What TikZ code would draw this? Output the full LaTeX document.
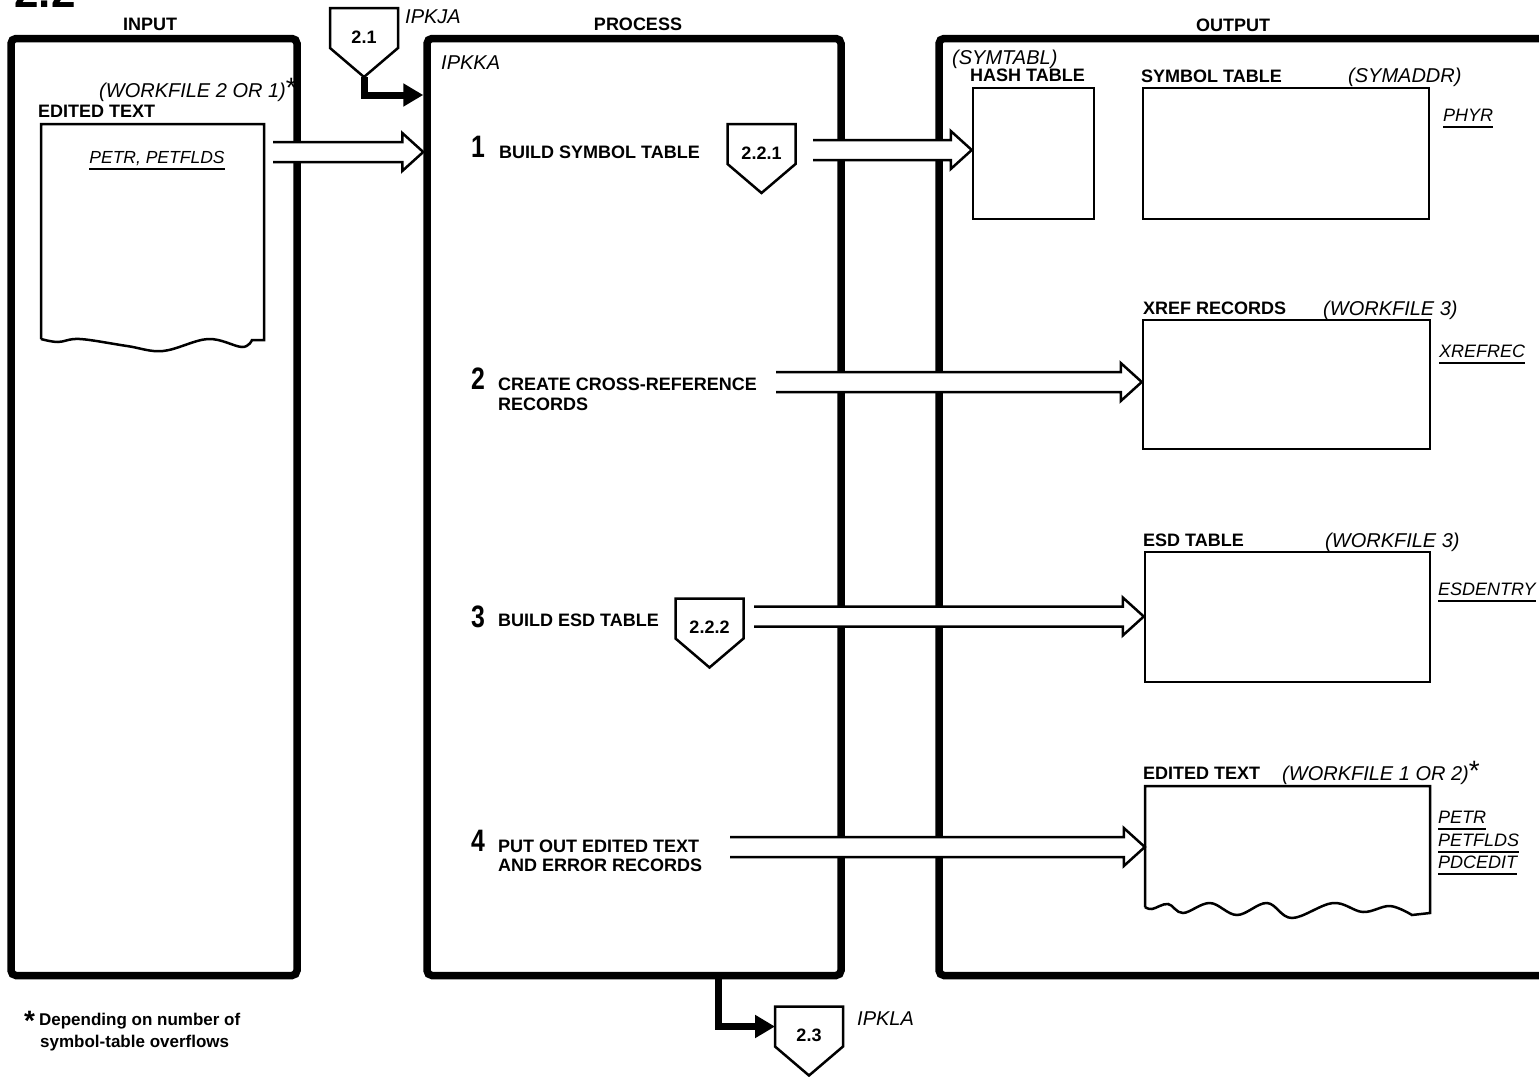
\documentclass[tikz,border=0pt]{standalone}
\usepackage{fontspec}
\setmainfont{Liberation Sans}
\newfontfamily\numfont[FakeStretch=0.8]{Liberation Sans}
\usetikzlibrary{arrows.meta,calc}

% off-page connector: name, top centre, number
\newcommand\offpage[3]{%
  \coordinate (#1) at #2;
  \draw[pent] (#1) ++(-34,0) -- ++(68,0) -- ++(0,40) -- ++(-34,29) -- ++(-34,-29) -- cycle;
  \coordinate (#1-pt) at ([yshift=-69pt]#1);
  \coordinate (#1-w) at ([xshift=-34pt,yshift=-20pt]#1);
  \node[pentno] (#1-no) at ([yshift=-29pt]#1) {#3};
}
% wide open arrow from a coordinate to a tip
\newcommand\hollowarrow[2]{%
  \fill[white] let \p1=(#1), \p2=(#2) in
    (\x1,\y1+10pt) -- (\x2-21pt,\y1+10pt) -- (\x2-21pt,\y1+19pt) -- (\x2,\y1)
    -- (\x2-21pt,\y1-19pt) -- (\x2-21pt,\y1-10pt) -- (\x1,\y1-10pt) -- cycle;
  \draw[hollow] let \p1=(#1), \p2=(#2) in
    (\x1,\y1+10pt) -- (\x2-21pt,\y1+10pt) -- (\x2-21pt,\y1+19pt) -- (\x2,\y1)
    -- (\x2-21pt,\y1-19pt) -- (\x2-21pt,\y1-10pt) -- (\x1,\y1-10pt);
}

\begin{document}
\begin{tikzpicture}[x=1pt,y=-1pt,
  bigbox/.style={draw,line width=7.5pt,rounded corners=5pt},
  tabbox/.style={draw,line width=2.5pt},
  head/.style={font=\fontsize{18}{21}\selectfont\bfseries,inner sep=0pt,text depth=0pt},
  tag/.style={font=\fontsize{20}{23}\selectfont\itshape,inner sep=0pt,text depth=0pt},
  ul/.style={tag,font=\fontsize{18}{21}\selectfont\itshape,inner ysep=6pt,append after command={(\tikzlastnode.south west) edge[line width=2pt] (\tikzlastnode.south east)}},
  stepno/.style={font=\numfont\fontsize{31}{31}\selectfont\bfseries,inner sep=0pt,text depth=0pt},
  pent/.style={draw,line width=2.5pt,fill=white,line join=miter},
  pentno/.style={font=\fontsize{18}{21}\selectfont\bfseries,inner sep=0pt},
  fat/.style={line width=7pt,-{Triangle[length=20pt,width=22pt]}},
  hollow/.style={line width=2.5pt,line join=miter},
  foot/.style={font=\fontsize{17}{20}\selectfont\bfseries,inner sep=0pt,text depth=0pt}]
  \useasboundingbox (0,0) rectangle (1539,1076);
  \node[anchor=base west,font=\fontsize{44}{44}\selectfont\bfseries] (title) at (11,7) {2.2};

  % the three columns
  \node[head] (hin) at (150,24) {INPUT};
  \node[head] (hproc) at (638,24) {PROCESS};
  \node[head] (hout) at (1233,25) {OUTPUT};
  \node[bigbox,minimum width=286,minimum height=937] (input) at (154,507) {};
  \node[bigbox,minimum width=414,minimum height=937] (process) at (634,507) {};
  \node[bigbox,minimum width=631,minimum height=937] (output) at (1254.5,507) {};

  % input
  \node[tag,anchor=east] (wfin) at (297,90) {(WORKFILE 2 OR 1)\smash{\fontsize{28}{28}\selectfont\upshape *}};
  \node[head,anchor=west] (edin) at (38,111) {EDITED TEXT};
  \node[minimum width=223,minimum height=216,inner sep=0pt] (docin) at (152.5,232) {};
  \draw[tabbox] (41,339) -- (41,124) -- (264,124) -- (264,340) -- plot[smooth,tension=0.6] coordinates {(252,340) (242,347) (208,339) (163,351) (127,346) (80,339) (58,342) (41,339)};
  \node[ul,font=\fontsize{17.5}{20}\selectfont\itshape] (petrin) at (157,157) {PETR, PETFLDS};

  % process
  \node[tag,anchor=west] (ipkka) at (441,63) {IPKKA};
  \node[stepno,anchor=west] (n1) at (471,147) {1};
  \node[head,anchor=west] (s1) at (499,152) {BUILD SYMBOL TABLE};
  \node[stepno,anchor=west] (n2) at (471,379) {2};
  \node[head,anchor=west] (s2a) at (498,384) {CREATE CROSS-REFERENCE};
  \node[head,anchor=west] (s2b) at (498,404) {RECORDS};
  \node[stepno,anchor=west] (n3) at (471,617) {3};
  \node[head,anchor=west] (s3) at (498,620) {BUILD ESD TABLE};
  \node[stepno,anchor=west] (n4) at (471,841) {4};
  \node[head,anchor=west] (s4a) at (498,846) {PUT OUT EDITED TEXT};
  \node[head,anchor=west] (s4b) at (498,865) {AND ERROR RECORDS};
  \offpage{c221}{(761.5,124)}{2.2.1}
  \offpage{c222}{(709.5,598.5)}{2.2.2}

  % output
  \node[tag,anchor=west] (symtabl) at (952,57) {(SYMTABL)};
  \node[head,anchor=west] (hhash) at (970,75) {HASH TABLE};
  \node[tabbox,minimum width=121,minimum height=131] (hash) at (1033.5,153.5) {};
  \node[head,anchor=west] (hsym) at (1141,76) {SYMBOL TABLE};
  \node[tag,anchor=west] (symaddr) at (1348,75) {(SYMADDR)};
  \node[tabbox,minimum width=286,minimum height=131] (symtab) at (1286,153.5) {};
  \node[ul,anchor=west] (phyr) at (1443,115) {PHYR};

  \node[head,anchor=west] (hxref) at (1143,308) {XREF RECORDS};
  \node[tag,anchor=west] (wf3a) at (1323,308) {(WORKFILE 3)};
  \node[tabbox,minimum width=287,minimum height=129] (xref) at (1286.5,384.5) {};
  \node[ul,anchor=west] (xrefrec) at (1439,351) {XREFREC};

  \node[head,anchor=west] (hesd) at (1143,540) {ESD TABLE};
  \node[tag,anchor=west] (wf3b) at (1325,540) {(WORKFILE 3)};
  \node[tabbox,minimum width=285,minimum height=130] (esd) at (1287.5,617) {};
  \node[ul,anchor=west] (esdentry) at (1438,589) {ESDENTRY};

  \node[head,anchor=west] (edout) at (1143,773) {EDITED TEXT};
  \node[tag,anchor=west] (wfout) at (1282,773) {(WORKFILE 1 OR 2)\smash{\fontsize{28}{28}\selectfont\upshape *}};
  \node[minimum width=285,minimum height=120,inner sep=0pt] (docout) at (1287.5,846) {};
  \draw[tabbox] (1145,907) -- (1145,786) -- (1430,786) -- (1430,913) -- plot[smooth,tension=0.6] coordinates {(1412,915) (1390,906) (1363,912) (1333,903) (1292,918) (1267,903) (1237,915) (1210,903) (1183,913) (1168,904) (1152,909) (1145,907)};
  \node[ul,anchor=west] (petr) at (1438,817) {PETR};
  \node[ul,anchor=west] (petflds) at (1438,840) {PETFLDS};
  \node[ul,anchor=west] (pdcedit) at (1438,862) {PDCEDIT};

  % data flow
  \coordinate (a0) at (273,152);
  \coordinate (a1) at (813,150);
  \coordinate (a2) at (776,382);
  \coordinate (a3) at (754,616.5);
  \coordinate (a4) at (730,847);
  \hollowarrow{a0}{process.west |- a0}
  \hollowarrow{a1}{hash.west |- a1}
  \hollowarrow{a2}{xref.west |- a2}
  \hollowarrow{a3}{esd.west |- a3}
  \hollowarrow{a4}{docout.west |- a4}

  % control in and out
  \offpage{c21}{(364,8)}{2.1}
  \node[tag,anchor=west] (ipkja) at (405,17) {IPKJA};
  \draw[fat] (c21-pt) |- (process.west |- 0,95);
  \offpage{c23}{(809,1006.5)}{2.3}
  \node[tag,anchor=west] (ipkla) at (857,1019) {IPKLA};
  \draw[fat] (718.5,0 |- process.south) |- (c23-w);

  % footnote
  \node[foot,anchor=west] (fn1) at (24,1019) {\smash{\raisebox{-5pt}{\fontsize{28}{28}\selectfont *}}\hspace{4pt}Depending on number of};
  \node[foot,anchor=west] (fn2) at (40,1041) {symbol-table overflows};
\end{tikzpicture}
\end{document}
